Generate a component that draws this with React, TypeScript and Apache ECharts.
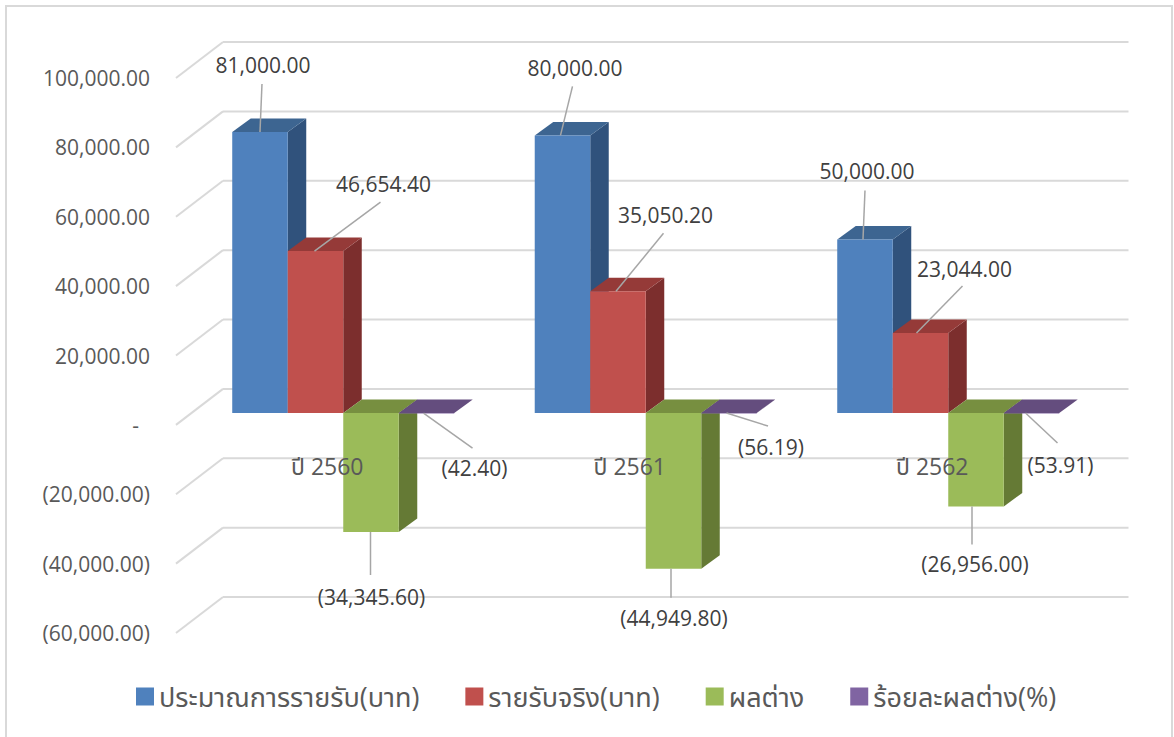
import React, { useEffect, useRef } from "react";
import * as echarts from "echarts";

// ---- data ----
const categories = ["ปี 2560", "ปี 2561", "ปี 2562"];
const seriesNames = ["ประมาณการรายรับ(บาท)", "รายรับจริง(บาท)", "ผลต่าง", "ร้อยละผลต่าง(%)"];
const budget = [81000, 80000, 50000];
const actual = [46654.4, 35050.2, 23044.0];
const difference = [-34345.6, -44949.8, -26956.0];
const percentDiff = [-42.4, -56.19, -53.91];
const yTicks = [-60000, -40000, -20000, 0, 20000, 40000, 60000, 80000, 100000];

// ---- styles / layout ----
const faceColors = [
  { front: "#4f81bd", top: "#3d6591", side: "#30527c" },
  { front: "#c0504d", top: "#953a38", side: "#7c2e2d" },
  { front: "#9bbb59", top: "#778f40", side: "#657a35" },
  { front: "#8064a2", top: "#644d7e", side: "#513e66" },
];
// label offsets from bar anchor: [labelDx, labelDy, lineStartDx, lineEndDx, lineEndDy]
const labelLayout = [
  [[3, -67, 0, 2, -48], [12.5, -67, -2, 10, -49], [2, -68, -2, 0, -49]],
  [[68, -67, -1, 65, -49], [47.5, -76, -2, 45.5, -58], [44, -64, -4, 42, -47]],
  [[0.5, 65, -0.5, -0.5, 43], [0.5, 49, -2.5, -2.5, 29], [-1, 58, -4, -4, 38]],
  [[48, 55, -3, 46, 35], [42, 34, -2.5, 39, 13], [29, 52, -6, 26, 30]],
];
const DEPTH_X = 18.5;
const DEPTH_Y = 13.5;
const FONT = "'Open Sans', 'Noto Sans', 'Noto Sans Thai', 'Loma', 'Garuda', 'Tlwg Typo', sans-serif";

const fmt = (v: number) => {
  const s = Math.abs(v).toLocaleString("en-US", { minimumFractionDigits: 2, maximumFractionDigits: 2 });
  if (v === 0) return "-";
  return v < 0 ? `(${s})` : s;
};

const allValues = [budget, actual, difference, percentDiff];

function barSeries(i: number) {
  const c = faceColors[i];
  return {
    type: "custom",
    name: seriesNames[i],
    xAxisIndex: 0,
    yAxisIndex: 0,
    itemStyle: { color: c.front },
    data: allValues[i].map((v, k) => [k, v]),
    encode: { x: 0, y: 1 },
    z: 3 + i,
    renderItem: (params: any, api: any) => {
      const cat = api.value(0);
      const v = api.value(1);
      const p0 = api.coord([cat, 0]);
      const p1 = api.coord([cat, v]);
      const band = api.size([1, 0])[0];
      const bw = band * 0.1835;
      const xl = p0[0] - 2 * bw + i * bw;
      const xr = xl + bw;
      const yTop = Math.min(p0[1], p1[1]);
      const yBot = Math.max(p0[1], p1[1]);
      const cx = xl + bw / 2;
      const ay = p1[1];
      const L = labelLayout[i][cat];
      return {
        type: "group",
        children: [
          {
            type: "polygon",
            shape: { points: [[xr, yTop], [xr + DEPTH_X, yTop - DEPTH_Y], [xr + DEPTH_X, yBot - DEPTH_Y], [xr, yBot]] },
            style: { fill: c.side },
          },
          {
            type: "polygon",
            shape: { points: [[xl, yTop], [xr, yTop], [xr + DEPTH_X, yTop - DEPTH_Y], [xl + DEPTH_X, yTop - DEPTH_Y]] },
            style: { fill: c.top },
          },
          {
            type: "rect",
            shape: { x: xl, y: yTop, width: bw, height: Math.max(yBot - yTop, 0.5) },
            style: { fill: c.front },
          },
          {
            type: "line",
            shape: { x1: cx + L[2], y1: ay, x2: cx + L[3], y2: ay + L[4] },
            style: { stroke: "#a6a6a6", lineWidth: 1.5 },
            z2: 20,
          },
          {
            type: "text",
            x: cx + L[0],
            y: ay + L[1],
            style: {
              text: fmt(v),
              fill: "#404040",
              font: `21px ${FONT}`,
              align: "center",
              verticalAlign: "middle",
            },
            z2: 20,
          },
        ],
      };
    },
  };
}

export default function App() {
  const ref = useRef<HTMLDivElement>(null);
  useEffect(() => {
    document.body.style.margin = "0";
    const chart = echarts.init(ref.current!, null, { renderer: "svg" });
    const commonY = { type: "value", min: -60000, max: 100000, interval: 20000 };
    chart.setOption({
      animation: false,
      backgroundColor: "#ffffff",
      textStyle: { fontFamily: FONT },
      graphic: [
        {
          type: "rect",
          silent: true,
          z: -10,
          shape: { x: 6, y: 6, width: 1166, height: 760 },
          style: { fill: "none", stroke: "#d9d9d9", lineWidth: 2 },
        },
      ],
      grid: [
        { left: 192, top: 66, width: 907.5, height: 555, containLabel: false, outerBoundsMode: "none" },
        { left: 176, top: 78, width: 907.5, height: 555, containLabel: false, outerBoundsMode: "none" },
      ],
      xAxis: [
        { type: "category", gridIndex: 0, data: categories, show: false },
        {
          type: "category",
          gridIndex: 1,
          data: categories,
          position: "bottom",
          offset: -208,
          z: 10,
          axisLine: { show: false, onZero: false },
          axisTick: { show: false },
          splitLine: { show: false },
          axisLabel: { color: "#595959", fontSize: 23, fontFamily: FONT, margin: 29 },
        },
      ],
      yAxis: [
        { ...commonY, gridIndex: 0, show: false },
        {
          ...commonY,
          gridIndex: 1,
          axisLine: { show: false },
          axisTick: { show: false },
          splitLine: { show: false },
          axisLabel: {
            color: "#595959",
            fontSize: 21,
            fontFamily: FONT,
            margin: 26,
            formatter: (v: number) => (v === 0 ? "{z|-}" : fmt(v)),
            rich: { z: { color: "#595959", fontSize: 21, fontFamily: FONT, padding: [0, 11, 0, 0] } },
          },
        },
      ],
      legend: {
        data: seriesNames,
        top: 678,
        left: 131,
        icon: "rect",
        itemWidth: 18,
        itemHeight: 18,
        itemGap: 46,
        textStyle: { color: "#595959", fontSize: 27, fontFamily: FONT, padding: [0, 0, 0, 0] },
      },
      series: [
        {
          type: "custom",
          name: "grid-lines",
          xAxisIndex: 0,
          yAxisIndex: 0,
          silent: true,
          z: 1,
          data: yTicks.map((v) => [0, v]),
          encode: { x: 0, y: 1 },
          renderItem: (params: any, api: any) => {
            const cs = params.coordSys;
            const y = api.coord([0, api.value(1)])[1];
            const s = { stroke: "#d9d9d9", lineWidth: 2 };
            return {
              type: "group",
              children: [
                { type: "line", shape: { x1: cs.x - 16, y1: y + 12, x2: cs.x + 31, y2: y - 24 }, style: s },
                { type: "line", shape: { x1: cs.x + 31, y1: y - 24, x2: cs.x + cs.width + 29, y2: y - 24 }, style: s },
              ],
            };
          },
        },
        barSeries(0),
        barSeries(1),
        barSeries(2),
        barSeries(3),
      ],
    });
    return () => chart.dispose();
  }, []);
  return <div ref={ref} style={{ width: 1174, height: 737 }} />;
}
